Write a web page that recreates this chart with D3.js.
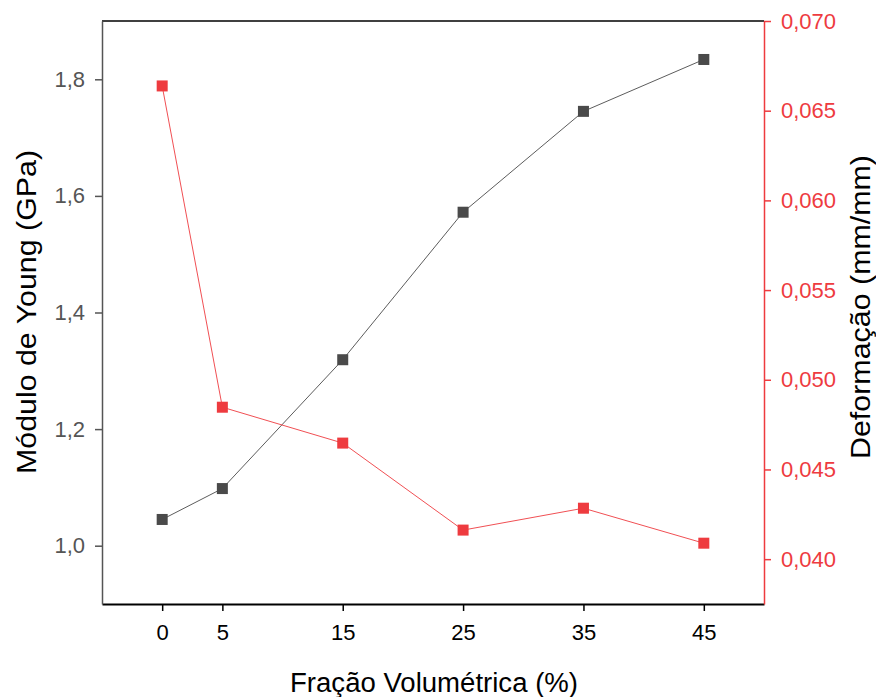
<!DOCTYPE html>
<html><head><meta charset="utf-8">
<script src="https://cdn.jsdelivr.net/npm/d3@7"></script>
<style>body{margin:0;background:#fff}svg{display:block;font-family:"Liberation Sans",Arial,sans-serif}</style>
</head><body><svg id="c" width="876" height="697"></svg>
<script>
const fractions = [0, 5, 15, 25, 35, 45];
const youngModulus = [1.045, 1.098, 1.319, 1.572, 1.745, 1.834];
const deformation = [0.06638, 0.04847, 0.04647, 0.04162, 0.04284, 0.04089];
const xTicks = [0, 5, 15, 25, 35, 45];
const leftTicks = [1.0, 1.2, 1.4, 1.6, 1.8];
const rightTicks = [0.040, 0.045, 0.050, 0.055, 0.060, 0.065, 0.070];

const L = 102, R = 764, T = 21, B = 604;
const black = "#4a4a4a", red = "#ee3b3f";
const svg = d3.select("#c");
const x = d3.scaleLinear().domain([-5, 50]).range([L, R]);
const yL = d3.scaleLinear().domain([0.9, 1.9]).range([B, T]);
const yR = d3.scaleLinear().domain([0.0375, 0.070]).range([B, T]);
const comma = (d, n) => d.toFixed(n).replace(".", ",");
const FF = "Liberation Sans, Arial, sans-serif";

// top frame
svg.append("line").attr("x1", L).attr("x2", R).attr("y1", T).attr("y2", T)
  .attr("stroke", "#000").attr("stroke-width", 1.5);

// bottom axis
const gx = svg.append("g").attr("transform", `translate(0,${B})`)
  .call(d3.axisBottom(x).tickValues(xTicks).tickSize(7).tickSizeOuter(0).tickPadding(13).tickFormat(d => d));
gx.select(".domain").attr("stroke", "#000").attr("stroke-width", 2);
gx.selectAll(".tick line").attr("stroke", "#000").attr("stroke-width", 1.5);
gx.selectAll("text").attr("font-size", 22).attr("fill", "#000").attr("font-family", FF);

// left axis
const gl = svg.append("g").attr("transform", `translate(${L},0)`)
  .call(d3.axisLeft(yL).tickValues(leftTicks).tickSize(7).tickSizeOuter(0).tickPadding(10).tickFormat(d => comma(d, 1)));
gl.select(".domain").attr("stroke", "#555").attr("stroke-width", 1.5);
gl.selectAll(".tick line").attr("stroke", "#555").attr("stroke-width", 1.5);
gl.selectAll("text").attr("font-size", 22).attr("fill", "#555").attr("font-family", FF);

// right axis
const gr = svg.append("g").attr("transform", `translate(${R},0)`)
  .call(d3.axisRight(yR).tickValues(rightTicks).tickSize(7).tickSizeOuter(0).tickPadding(10).tickFormat(d => comma(d, 3)));
gr.select(".domain").attr("stroke", red).attr("stroke-width", 1.5);
gr.selectAll(".tick line").attr("stroke", red).attr("stroke-width", 1.5);
gr.selectAll("text").attr("font-size", 22).attr("fill", red).attr("font-family", FF);

// series
const lineL = d3.line().x((d, i) => x(fractions[i])).y(d => yL(d));
const lineR = d3.line().x((d, i) => x(fractions[i])).y(d => yR(d));
svg.append("path").attr("d", lineL(youngModulus)).attr("fill", "none").attr("stroke", black).attr("stroke-width", 0.9);
svg.append("path").attr("d", lineR(deformation)).attr("fill", "none").attr("stroke", red).attr("stroke-width", 0.9);
const ms = 11;
svg.selectAll(".mL").data(youngModulus).enter().append("rect")
  .attr("x", (d, i) => x(fractions[i]) - ms / 2).attr("y", d => yL(d) - ms / 2)
  .attr("width", ms).attr("height", ms).attr("fill", black);
svg.selectAll(".mR").data(deformation).enter().append("rect")
  .attr("x", (d, i) => x(fractions[i]) - ms / 2).attr("y", d => yR(d) - ms / 2)
  .attr("width", ms).attr("height", ms).attr("fill", red);

// titles
svg.append("text").attr("x", 434).attr("y", 692).attr("text-anchor", "middle")
  .attr("font-size", 27).attr("fill", "#000").attr("textLength", 288).attr("lengthAdjust", "spacingAndGlyphs")
  .text("Fração Volumétrica (%)");
svg.append("text").attr("transform", `translate(36,312) rotate(-90)`).attr("text-anchor", "middle")
  .attr("font-size", 27).attr("fill", "#000").attr("textLength", 324).attr("lengthAdjust", "spacingAndGlyphs")
  .text("Módulo de Young (GPa)");
svg.append("text").attr("transform", `translate(870,307) rotate(-90)`).attr("text-anchor", "middle")
  .attr("font-size", 27).attr("fill", "#000").attr("textLength", 304).attr("lengthAdjust", "spacingAndGlyphs")
  .text("Deformação (mm/mm)");
</script></body></html>
